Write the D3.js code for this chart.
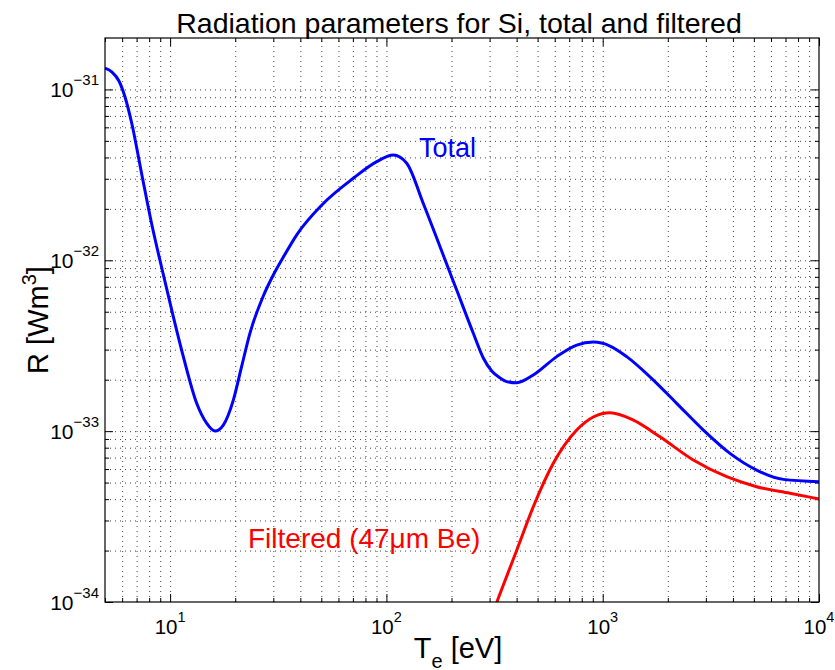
<!DOCTYPE html>
<html>
<head>
<meta charset="utf-8">
<script src="https://cdn.jsdelivr.net/npm/d3@7"></script>
<style>
body { margin: 0; background: #fff; }
text { font-family: "Liberation Sans", Arial, sans-serif; fill: #000; }
.grid line { stroke: #444; stroke-width: 1; stroke-dasharray: 1,4; }
.grid path { display: none; }
.ticks path { display: none; }
.ticks line { stroke: #000; stroke-width: 1; }
</style>
</head>
<body>
<svg id="chart" width="835" height="670"></svg>
<script>
// total radiation
var totalT = [5, 5.388, 5.803, 6.187, 6.643, 7.39, 8.22, 9.15, 10.17, 11.51, 13.27, 14.77, 16.13, 17.62, 19.6, 21.43, 23.4, 26.97, 30.0, 33.4, 38.5, 51.1, 70.3, 90.2, 107.6, 124.1, 148.1, 177, 211.3, 252.2, 280.5, 306.9, 335.1, 359.8, 400.4, 477.7, 613, 758.5, 905, 1081, 1291, 1654, 2197, 2919, 3875, 5147, 6842, 10000];
var totalR = [1.33e-31, 1.264e-31, 1.12e-31, 9.03e-32, 6.36e-32, 3.20e-32, 1.63e-32, 9.01e-33, 5.12e-33, 2.73e-33, 1.455e-33, 1.11e-33, 1.002e-33, 1.086e-33, 1.52e-33, 2.40e-33, 3.75e-33, 6.18e-33, 8.20e-33, 1.045e-32, 1.41e-32, 2.15e-32, 3.02e-32, 3.78e-32, 4.13e-32, 3.70e-32, 2.15e-32, 1.20e-32, 6.70e-33, 3.74e-33, 2.68e-33, 2.25e-33, 2.05e-33, 1.95e-33, 1.92e-33, 2.13e-33, 2.73e-33, 3.19e-33, 3.32e-33, 3.15e-33, 2.73e-33, 2.08e-33, 1.455e-33, 1.015e-33, 7.41e-34, 5.92e-34, 5.22e-34, 5.06e-34];

// filtered (47um Be)
var filtT = [301, 324, 400.4, 477.7, 591, 758.5, 905, 1081, 1386, 1839, 2623, 3743, 5147, 7338, 10000];
var filtR = [7.84e-35, 1.0e-34, 2.01e-34, 3.61e-34, 6.48e-34, 1.015e-33, 1.21e-33, 1.28e-33, 1.16e-33, 9.27e-34, 6.78e-34, 5.41e-34, 4.73e-34, 4.33e-34, 4.01e-34];

var xMajor = [10, 100, 1000, 10000];
var xExp = ["1", "2", "3", "4"];
var yMajor = [1e-34, 1e-33, 1e-32, 1e-31];
var yExp = ["\u221234", "\u221233", "\u221232", "\u221231"];

var margin = {top: 38, right: 16, bottom: 68, left: 105};
var width = 835 - margin.left - margin.right;
var height = 670 - margin.top - margin.bottom;

var svg = d3.select("#chart");
var g = svg.append("g").attr("transform", "translate(" + margin.left + "," + margin.top + ")");

var x = d3.scaleLog().domain([5, 10000]).range([0, width]);
var y = d3.scaleLog().domain([1e-34, 2e-31]).range([height, 0]);

// every 1..9 multiple inside the domain
function logSteps(lo, hi, d0, d1) {
	var out = [];
	for (var e = d0; e <= d1; e++) {
		for (var m = 1; m < 10; m++) {
			var v = m * Math.pow(10, e);
			if (v >= lo * 0.999 && v <= hi * 1.001) out.push(v);
		}
	}
	return out;
}
var xAll = logSteps(5, 10000, 0, 4);
var yAll = logSteps(1e-34, 2e-31, -34, -31);
var xMinor = xAll.filter(function(v){ return xMajor.indexOf(v) < 0; });
var yMinor = yAll.filter(function(v){ return yMajor.indexOf(v) < 0 && v < 1.9e-31; });

// dotted grid
g.append("g").attr("class", "grid")
	.attr("transform", "translate(0," + height + ")")
	.call(d3.axisBottom(x).tickValues(xAll.filter(function(v){ return v > 5 && v < 10000; })).tickSize(-height).tickFormat(""));
g.append("g").attr("class", "grid")
	.call(d3.axisLeft(y).tickValues(yAll.filter(function(v){ return v > 1e-34 && v < 1.9e-31; })).tickSize(-width).tickFormat(""));

// ticks on all four sides, pointing inward
function tickSet(axisFn, vals, size, tr) {
	g.append("g").attr("class", "ticks")
		.attr("transform", tr)
		.call(axisFn.tickValues(vals).tickSize(size).tickFormat(""));
}
tickSet(d3.axisBottom(x), xMajor, -8, "translate(0," + height + ")");
tickSet(d3.axisBottom(x), xMinor, -4, "translate(0," + height + ")");
tickSet(d3.axisTop(x), xMajor, -8, "translate(0,0)");
tickSet(d3.axisTop(x), xMinor, -4, "translate(0,0)");
tickSet(d3.axisLeft(y), yMajor, -8, "translate(0,0)");
tickSet(d3.axisLeft(y), yMinor, -4, "translate(0,0)");
tickSet(d3.axisRight(y), yMajor, -8, "translate(" + width + ",0)");
tickSet(d3.axisRight(y), yMinor, -4, "translate(" + width + ",0)");

// curves
g.append("clipPath").attr("id", "clip")
	.append("rect").attr("width", width).attr("height", height);

var line = d3.line()
	.x(function(d){ return x(d[0]); })
	.y(function(d){ return y(d[1]); })
	.curve(d3.curveMonotoneX);

var totalData = d3.zip(totalT, totalR);
var filtData = d3.zip(filtT, filtR);

g.append("path").datum(filtData)
	.attr("clip-path", "url(#clip)")
	.attr("d", line)
	.attr("fill", "none").attr("stroke", "#ff0000").attr("stroke-width", 3);

g.append("path").datum(totalData)
	.attr("clip-path", "url(#clip)")
	.attr("d", line)
	.attr("fill", "none").attr("stroke", "#0000ff").attr("stroke-width", 3);

// box
g.append("rect").attr("width", width).attr("height", height)
	.attr("fill", "none").attr("stroke", "#000").attr("stroke-width", 1.2);

// tick labels
xMajor.forEach(function(v, i){
	var t = g.append("text").attr("x", x(v)).attr("y", height + 32)
		.attr("text-anchor", "middle").style("font-size", "20.5px");
	t.append("tspan").text("10");
	t.append("tspan").attr("dy", -12).style("font-size", "14.5px").text(xExp[i]);
});
yMajor.forEach(function(v, i){
	var t = g.append("text").attr("x", -6).attr("y", y(v) + 8)
		.attr("text-anchor", "end").style("font-size", "21px");
	t.append("tspan").text("10");
	t.append("tspan").attr("dy", -12).style("font-size", "15px").text(yExp[i]);
});

// axis titles
var xt = svg.append("text").attr("x", margin.left + width / 2 - 4).attr("y", 658)
	.attr("text-anchor", "middle").style("font-size", "29px");
xt.append("tspan").text("T");
xt.append("tspan").attr("dy", 10).style("font-size", "20px").text("e");
xt.append("tspan").attr("dy", -10).text(" [eV]");

var yt = svg.append("text")
	.attr("transform", "translate(48," + (margin.top + height / 2) + ") rotate(-90)")
	.attr("text-anchor", "middle").style("font-size", "29px");
yt.append("tspan").text("R [Wm");
yt.append("tspan").attr("dy", -12).style("font-size", "20px").text("3");
yt.append("tspan").attr("dy", 12).text("]");

svg.append("text").attr("x", margin.left + width / 2 - 3).attr("y", 33)
	.attr("text-anchor", "middle").style("font-size", "28.5px")
	.text("Radiation parameters for Si, total and filtered");

// series labels
svg.append("text").attr("x", 419).attr("y", 157)
	.style("font-size", "27px").style("fill", "#0000ff").text("Total");
svg.append("text").attr("x", 248).attr("y", 548)
	.style("font-size", "28px").style("fill", "#ff0000").text("Filtered (47\u03bcm Be)");
</script>
</body>
</html>
